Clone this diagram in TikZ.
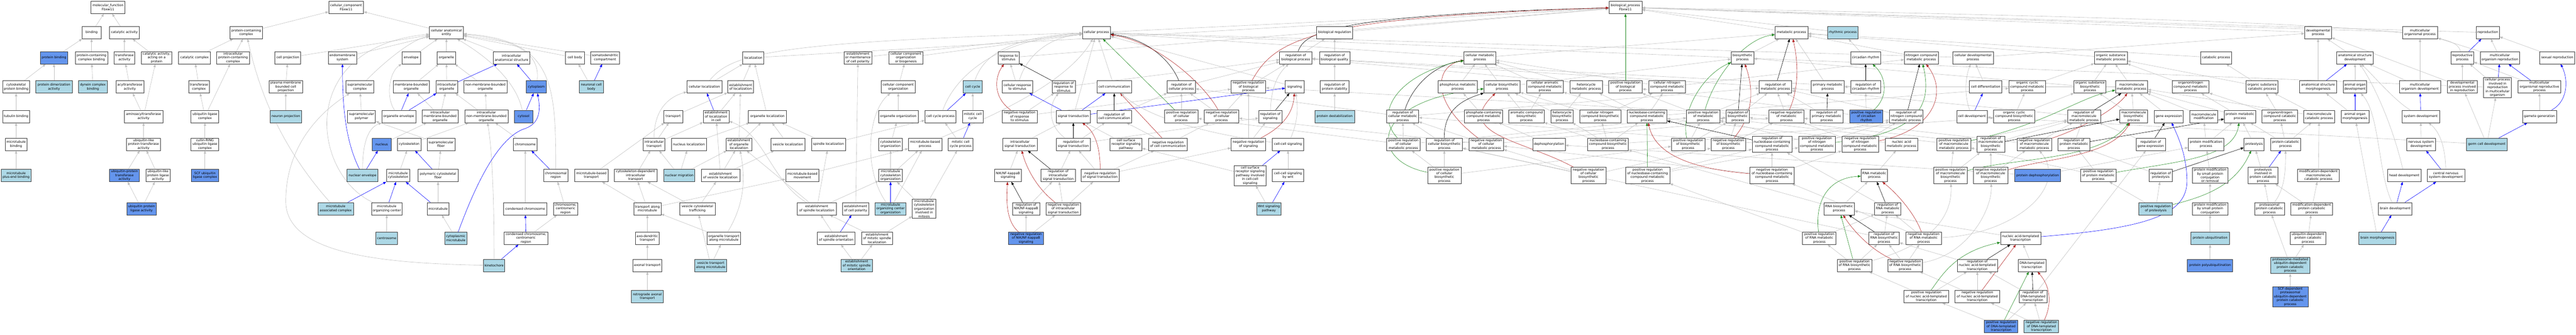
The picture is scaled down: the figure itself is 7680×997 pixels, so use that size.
\documentclass[tikz,border=0pt]{standalone}
\usepackage{fontspec}
\setmainfont{DejaVu Sans}
\usetikzlibrary{arrows.meta}
\pgfdeclarelayer{bg}
\pgfsetlayers{bg,main}
\definecolor{lbc}{HTML}{ADD8E6}
\definecolor{cbc}{HTML}{6495ED}
\definecolor{grc}{HTML}{C0C0C0}
\definecolor{rdc}{HTML}{B22222}
\definecolor{gnc}{HTML}{228B22}
\definecolor{blc}{HTML}{0000FF}
\tikzset{
  gb/.style={rectangle, draw=black!78, line width=1.1pt, fill=white, minimum height=37pt, inner xsep=1.5pt, inner ysep=2.5pt, align=center, font=\fontsize{9.6}{11.4}\selectfont},
  lbf/.style={fill=lbc},
  cbf/.style={fill=cbc},
  lnG/.style={draw=grc, line width=0.9pt, -{Triangle[length=9pt,width=7pt]}},
  lnB/.style={lnG, draw=blc},
  lnR/.style={lnG, draw=rdc},
  lnV/.style={lnG, draw=gnc},
  lnK/.style={lnG, draw=black},
}
\newcommand{\GN}[6]{\node[gb,minimum width=#4pt,#5] (#1) at (#2,#3) {#6};}
\begin{document}
\begin{tikzpicture}[x=1pt,y=-1pt]
\useasboundingbox (0,0) rectangle (7680,997);
% ---------- molecular function ----------
\GN{mf}{322}{22}{102}{}{molecular\_function\\Fbxw11}
\GN{bind}{273}{97}{56}{}{binding}
\GN{cat}{371}{97}{89}{}{catalytic activity}
\GN{pb}{161}{172}{81}{cbf}{protein binding}
\GN{pcb}{273}{172}{97}{}{protein-containing\\complex binding}
\GN{tra}{371}{172}{62}{}{transferase\\activity}
\GN{cap}{467}{172}{91}{}{catalytic activity,\\acting on a\\protein}
\GN{cytpb}{48}{259}{81}{}{cytoskeletal\\protein binding}
\GN{pda}{161}{259}{108}{lbf}{protein dimerization\\activity}
\GN{dcb}{277}{259}{85}{lbf}{dynein complex\\binding}
\GN{acyl}{387}{259}{83}{}{acyltransferase\\activity}
\GN{tub}{48}{347}{79}{}{tubulin binding}
\GN{amino}{428}{347}{115}{}{aminoacyltransferase\\activity}
\GN{mtb}{48}{430}{64}{}{microtubule\\binding}
\GN{ultra}{428}{430}{101}{}{ubiquitin-like\\protein transferase\\activity}
\GN{mtpe}{48}{523}{90}{lbf}{microtubule\\plus-end binding}
\GN{upta}{371}{523}{89}{cbf}{ubiquitin-protein\\transferase\\activity}
\GN{ulla}{471}{523}{73}{}{ubiquitin-like\\protein ligase\\activity}
\GN{upla}{422}{622}{87}{cbf}{ubiquitin protein\\ligase activity}
% ---------- cellular component ----------
\GN{cc}{1032}{22}{104}{}{cellular\_component\\Fbxw11}
\GN{pcc}{734}{97}{98}{}{protein-containing\\complex}
\GN{cae}{1331}{97}{101}{}{cellular anatomical\\entity}
\GN{catc}{580}{172}{95}{}{catalytic complex}
\GN{ipcc}{695}{172}{98}{}{intracellular\\protein-containing\\complex}
\GN{cproj}{858}{172}{77}{}{cell projection}
\GN{ems}{1021}{172}{85}{}{endomembrane\\system}
\GN{env}{1226}{172}{56}{}{envelope}
\GN{org}{1331}{172}{56}{}{organelle}
\GN{ias}{1525}{172}{110}{}{intracellular\\anatomical structure}
\GN{cbody}{1714}{172}{56}{}{cell body}
\GN{sdc}{1804}{172}{87}{}{somatodendritic\\compartment}
\GN{trc}{593}{259}{62}{}{transferase\\complex}
\GN{pmbcp}{852}{259}{100}{}{plasma membrane\\bounded cell\\projection}
\GN{smc}{1073}{259}{83}{}{supramolecular\\complex}
\GN{mbo}{1226}{259}{108}{}{membrane-bounded\\organelle}
\GN{io}{1332}{259}{64}{}{intracellular\\organelle}
\GN{nmbo}{1447}{259}{129}{}{non-membrane-bounded\\organelle}
\GN{cyto}{1599}{259}{59}{cbf}{cytoplasm}
\GN{ncb}{1763}{259}{71}{lbf}{neuronal cell\\body}
\GN{ulc}{611}{347}{83}{}{ubiquitin ligase\\complex}
\GN{np}{852}{347}{93}{lbf}{neuron projection}
\GN{smp}{1078}{347}{83}{}{supramolecular\\polymer}
\GN{oe}{1189}{347}{102}{}{organelle envelope}
\GN{imbo}{1312}{347}{108}{}{intracellular\\membrane-bounded\\organelle}
\GN{inmbo}{1450}{347}{129}{}{intracellular\\non-membrane-bounded\\organelle}
\GN{cytosol}{1561}{347}{56}{cbf}{cytosol}
\GN{crl}{611}{430}{83}{}{cullin-RING\\ubiquitin ligase\\complex}
\GN{nuc}{1138}{430}{56}{cbf}{nucleus}
\GN{cysk}{1220}{430}{71}{}{cytoskeleton}
\GN{smf}{1315}{430}{83}{}{supramolecular\\fiber}
\GN{chr}{1566}{430}{70}{}{chromosome}
\GN{scf}{611}{523}{82}{cbf}{SCF ubiquitin\\ligase complex}
\GN{ne}{1081}{523}{92}{lbf}{nuclear envelope}
\GN{mtcs}{1187}{523}{70}{}{microtubule\\cytoskeleton}
\GN{pcf}{1306}{523}{120}{}{polymeric cytoskeletal\\fiber}
\GN{chrr}{1657}{523}{73}{}{chromosomal\\region}
\GN{mac}{1001}{622}{105}{lbf}{microtubule\\associated complex}
\GN{mtoc}{1153}{622}{91}{}{microtubule\\organizing center}
\GN{mt}{1306}{622}{65}{}{microtubule}
\GN{cchr}{1566}{622}{129}{}{condensed chromosome}
\GN{ccr}{1686}{622}{73}{}{chromosome,\\centromeric\\region}
\GN{csome}{1153}{710}{64}{lbf}{centrosome}
\GN{cmt}{1359}{710}{67}{lbf}{cytoplasmic\\microtubule}
\GN{cccr}{1568}{710}{131}{}{condensed chromosome,\\centromeric\\region}
\GN{kin}{1473}{791}{64}{lbf}{kinetochore}
% ---------- biological process: transport / localization ----------
\GN{mbt}{1763}{523}{100}{}{microtubule-based\\transport}
\GN{cdit}{1895}{523}{127}{}{cytoskeleton-dependent\\intracellular\\transport}
\GN{tam}{1930}{622}{81}{}{transport along\\microtubule}
\GN{adt}{1930}{710}{71}{}{axo-dendritic\\transport}
\GN{axt}{1930}{791}{87}{}{axonal transport}
\GN{rat}{1930}{884}{95}{lbf}{retrograde axonal\\transport}
\GN{loc}{2246}{172}{63}{}{localization}
\GN{emcp}{2558}{172}{83}{}{establishment\\or maintenance\\of cell polarity}
\GN{cloc}{2100}{259}{104}{}{cellular localization}
\GN{eloc}{2208}{259}{77}{}{establishment\\of localization}
\GN{trans}{2007}{347}{56}{}{transport}
\GN{elic}{2135}{347}{77}{}{establishment\\of localization\\in cell}
\GN{oloc}{2288}{347}{114}{}{organelle localization}
\GN{itr}{1950}{430}{65}{}{intracellular\\transport}
\GN{nloc}{2054}{430}{104}{}{nucleus localization}
\GN{eol}{2203}{430}{77}{}{establishment\\of organelle\\localization}
\GN{vloc}{2349}{430}{101}{}{vesicle localization}
\GN{sloc}{2470}{430}{102}{}{spindle localization}
\GN{nmig}{2025}{523}{93}{lbf}{nuclear migration}
\GN{evl}{2148}{523}{115}{}{establishment\\of vesicle localization}
\GN{mtbm}{2392}{523}{99}{}{microtubule-based\\movement}
\GN{vct}{2079}{622}{106}{}{vesicle cytoskeletal\\trafficking}
\GN{esl}{2435}{622}{116}{}{establishment\\of spindle localization}
\GN{ecp}{2551}{622}{77}{}{establishment\\of cell polarity}
\GN{otam}{2158}{710}{101}{}{organelle transport\\along microtubule}
\GN{eso}{2493}{710}{112}{}{establishment\\of spindle orientation}
\GN{vtam}{2119}{791}{96}{lbf}{vesicle transport\\along microtubule}
\GN{emso}{2554}{791}{93}{lbf}{establishment\\of mitotic spindle\\orientation}
% ---------- organization / cell cycle / signaling ----------
\GN{ccob}{2701}{172}{102}{}{cellular component\\organization\\or biogenesis}
\GN{rts}{3007}{172}{64}{}{response to\\stimulus}
\GN{cco}{2678}{259}{101}{}{cellular component\\organization}
\GN{ccyc}{2900}{259}{56}{lbf}{cell cycle}
\GN{crs}{3033}{259}{91}{}{cellular response\\to stimulus}
\GN{rrs}{3171}{259}{69}{}{regulation of\\response to\\stimulus}
\GN{oorg}{2678}{347}{118}{}{organelle organization}
\GN{ccp}{2804}{347}{93}{}{cell cycle process}
\GN{mcc}{2900}{347}{61}{}{mitotic cell\\cycle}
\GN{nrrs}{3040}{347}{104}{}{negative regulation\\of response\\to stimulus}
\GN{st}{3200}{347}{101}{}{signal transduction}
\GN{csorg}{2655}{430}{70}{}{cytoskeleton\\organization}
\GN{mtbp}{2758}{430}{100}{}{microtubule-based\\process}
\GN{mccp}{2864}{430}{73}{}{mitotic cell\\cycle process}
\GN{ist}{3041}{430}{102}{}{intracellular\\signal transduction}
\GN{rst}{3200}{430}{101}{}{regulation of\\signal transduction}
\GN{mtco}{2655}{523}{70}{}{microtubule\\cytoskeleton\\organization}
\GN{nfkb}{3005}{523}{81}{}{NIK/NF-kappaB\\signaling}
\GN{rist}{3155}{523}{103}{}{regulation of\\intracellular\\signal transduction}
\GN{mtoco}{2655}{622}{92}{lbf}{microtubule\\organizing center\\organization}
\GN{mcoim}{2755}{622}{71}{}{microtubule\\cytoskeleton\\organization\\involved in\\mitosis}
\GN{rnfkb}{3059}{622}{81}{}{regulation of\\NIK/NF-kappaB\\signaling}
\GN{nrist}{3170}{622}{103}{}{negative regulation\\of intracellular\\signal transduction}
\GN{emsl}{2615}{710}{93}{}{establishment\\of mitotic spindle\\localization}
\GN{nrnfkb}{3059}{710}{104}{cbf}{negative regulation\\of NIK/NF-kappaB\\signaling}
\GN{cp}{3269}{97}{83}{}{cellular process}
\GN{rbp}{3863}{172}{96}{}{regulation of\\biological process}
\GN{ccom}{3322}{259}{104}{}{cell communication}
\GN{rcp}{3522}{259}{84}{}{regulation of\\cellular process}
\GN{nrbp}{3722}{259}{103}{}{negative regulation\\of biological\\process}
\GN{sig}{3860}{259}{56}{}{signaling}
\GN{rcc}{3322}{347}{104}{}{regulation of\\cell communication}
\GN{prcp}{3522}{347}{100}{}{positive regulation\\of cellular\\process}
\GN{nrcp}{3642}{347}{103}{}{negative regulation\\of cellular\\process}
\GN{rsig}{3787}{347}{69}{}{regulation of\\signaling}
\GN{csrsp}{3357}{430}{95}{}{cell surface\\receptor signaling\\pathway}
\GN{nrcc}{3482}{430}{116}{}{negative regulation\\of cell communication}
\GN{nrsig}{3722}{430}{103}{}{negative regulation\\of signaling}
\GN{ccs}{3840}{430}{93}{}{cell-cell signaling}
\GN{nrst}{3280}{523}{114}{}{negative regulation\\of signal transduction}
\GN{csrpc}{3727}{523}{95}{}{cell surface\\receptor signaling\\pathway involved\\in cell-cell\\signaling}
\GN{ccsw}{3840}{523}{93}{}{cell-cell signaling\\by wnt}
\GN{wnt}{3783}{622}{72}{lbf}{Wnt signaling\\pathway}
% ---------- regulation / metabolism ----------
\GN{breg}{3979}{97}{108}{}{biological regulation}
\GN{rbq}{3979}{172}{91}{}{regulation of\\biological quality}
\GN{cmp}{4412}{172}{95}{}{cellular metabolic\\process}
\GN{rps}{3979}{259}{85}{}{regulation of\\protein stability}
\GN{pmp}{4346}{259}{116}{}{phosphorus metabolic\\process}
\GN{cbp}{4478}{259}{108}{}{cellular biosynthetic\\process}
\GN{pdes}{3979}{347}{118}{lbf}{protein destabilization}
\GN{rcmp}{4182}{347}{95}{}{regulation of\\cellular metabolic\\process}
\GN{pccmp}{4423}{347}{113}{}{phosphate-containing\\compound metabolic\\process}
\GN{prcmp}{4184}{430}{100}{}{positive regulation\\of cellular\\metabolic process}
\GN{rcbp}{4306}{430}{108}{}{regulation of\\cellular biosynthetic\\process}
\GN{nrcmp}{4431}{430}{103}{}{negative regulation\\of cellular\\metabolic process}
\GN{prcbp}{4306}{523}{100}{}{positive regulation\\of cellular\\biosynthetic\\process}
\GN{bp}{4846}{22}{98}{}{biological\_process\\Fbxw11}
\GN{cacmp}{4606}{259}{110}{}{cellular aromatic\\compound metabolic\\process}
\GN{hmp}{4729}{259}{98}{}{heterocycle\\metabolic process}
\GN{prbp}{4846}{259}{100}{}{positive regulation\\of biological\\process}
\GN{cncmp}{4970}{259}{110}{}{cellular nitrogen\\compound metabolic\\process}
\GN{acbp}{4551}{347}{105}{}{aromatic compound\\biosynthetic\\process}
\GN{hbp}{4657}{347}{67}{}{heterocycle\\biosynthetic\\process}
\GN{cncbp}{4771}{347}{122}{}{cellular nitrogen\\compound biosynthetic\\process}
\GN{nccmp}{4910}{347}{119}{}{nucleobase-containing\\compound metabolic\\process}
\GN{prmp}{5078}{347}{99}{}{positive regulation\\of metabolic\\process}
\GN{dephos}{4618}{430}{97}{}{dephosphorylation}
\GN{nccbp}{4794}{430}{122}{}{nucleobase-containing\\compound biosynthetic\\process}
\GN{prbsp}{5033}{430}{100}{}{positive regulation\\of biosynthetic\\process}
\GN{nrbsp}{5153}{430}{104}{}{negative regulation\\of biosynthetic\\process}
\GN{nrcbp}{4736}{523}{103}{}{negative regulation\\of cellular\\biosynthetic\\process}
\GN{prnccmp}{4912}{523}{132}{}{positive regulation\\of nucleobase-containing\\compound metabolic\\process}
\GN{mp}{5341}{97}{98}{}{metabolic process}
\GN{rhp}{5494}{97}{92}{lbf}{rhythmic process}
\GN{bsp}{5195}{172}{67}{}{biosynthetic\\process}
\GN{crh}{5562}{172}{89}{}{circadian rhythm}
\GN{ncmp}{5728}{172}{101}{}{nitrogen compound\\metabolic process}
\GN{rmp}{5293}{259}{97}{}{regulation of\\metabolic process}
\GN{primp}{5449}{259}{98}{}{primary metabolic\\process}
\GN{rcrh}{5562}{259}{89}{}{regulation of\\circadian rhythm}
\GN{rbsp}{5181}{347}{69}{}{regulation of\\biosynthetic\\process}
\GN{nrmp}{5326}{347}{104}{}{negative regulation\\of metabolic\\process}
\GN{rprimp}{5446}{347}{98}{}{regulation of\\primary metabolic\\process}
\GN{prcrh}{5564}{347}{99}{cbf}{positive regulation\\of circadian\\rhythm}
\GN{rncmp}{5683}{347}{101}{}{regulation of\\nitrogen compound\\metabolic process}
\GN{rnccmp}{5283}{430}{118}{}{regulation of\\nucleobase-containing\\compound metabolic\\process}
\GN{prncmp}{5417}{430}{110}{}{positive regulation\\of nitrogen\\compound metabolic\\process}
\GN{nrncmp}{5546}{430}{110}{}{negative regulation\\of nitrogen\\compound metabolic\\process}
\GN{namp}{5669}{430}{98}{}{nucleic acid\\metabolic process}
\GN{nrnccmp}{5283}{523}{132}{}{negative regulation\\of nucleobase-containing\\compound metabolic\\process}
\GN{rnamp}{5588}{523}{79}{}{RNA metabolic\\process}
\GN{rnabp}{5483}{622}{91}{}{RNA biosynthetic\\process}
\GN{rrnamp}{5628}{622}{79}{}{regulation of\\RNA metabolic\\process}
\GN{prrnamp}{5424}{710}{100}{}{positive regulation\\of RNA metabolic\\process}
\GN{rrnabp}{5617}{710}{91}{}{regulation of\\RNA biosynthetic\\process}
\GN{nrrnamp}{5735}{710}{105}{}{negative regulation\\of RNA metabolic\\process}
\GN{prrnabp}{5529}{791}{103}{}{positive regulation\\of RNA biosynthetic\\process}
\GN{nrrnabp}{5680}{791}{103}{}{negative regulation\\of RNA biosynthetic\\process}
\GN{prnatt}{5743}{884}{133}{}{positive regulation\\of nucleic acid-templated\\transcription}
\GN{cdp}{5882}{172}{121}{}{cellular developmental\\process}
\GN{osmp}{6293}{172}{98}{}{organic substance\\metabolic process}
\GN{cdiff}{5920}{259}{97}{}{cell differentiation}
\GN{occmp}{6044}{259}{110}{}{organic cyclic\\compound metabolic\\process}
\GN{osbp}{6231}{259}{95}{}{organic substance\\biosynthetic\\process}
\GN{mmp}{6355}{259}{96}{}{macromolecule\\metabolic process}
\GN{cdev}{5879}{347}{91}{}{cell development}
\GN{occbp}{6005}{347}{122}{}{organic cyclic\\compound biosynthetic\\process}
\GN{rmmp}{6213}{347}{98}{}{regulation of\\macromolecule\\metabolic process}
\GN{mbp}{6361}{347}{83}{}{macromolecule\\biosynthetic\\process}
\GN{prmmp}{5825}{430}{100}{}{positive regulation\\of macromolecule\\metabolic process}
\GN{rmbp}{5935}{430}{83}{}{regulation of\\macromolecule\\biosynthetic\\process}
\GN{nrmmp}{6065}{430}{103}{}{negative regulation\\of macromolecule\\metabolic process}
\GN{rpmp}{6183}{430}{94}{}{regulation of\\protein metabolic\\process}
\GN{rge}{6412}{430}{88}{}{regulation of\\gene expression}
\GN{prmbp}{5815}{523}{100}{}{positive regulation\\of macromolecule\\biosynthetic\\process}
\GN{nrmbp}{5935}{523}{104}{}{negative regulation\\of macromolecule\\biosynthetic\\process}
\GN{pdp}{6075}{523}{137}{cbf}{protein dephosphorylation}
\GN{prpmp}{6256}{523}{107}{}{positive regulation\\of protein metabolic\\process}
\GN{pprot}{6427}{622}{100}{lbf}{positive regulation\\of proteolysis}
\GN{natt}{6024}{710}{120}{}{nucleic acid-templated\\transcription}
\GN{rnatt}{5895}{791}{120}{}{regulation of\\nucleic acid-templated\\transcription}
\GN{dtt}{6058}{791}{83}{}{DNA-templated\\transcription}
\GN{nrnatt}{5895}{884}{133}{}{negative regulation\\of nucleic acid-templated\\transcription}
\GN{rdtt}{6061}{884}{83}{}{regulation of\\DNA-templated\\transcription}
\GN{prdtt}{5966}{973}{100}{cbf}{positive regulation\\of DNA-templated\\transcription}
\GN{nrdtt}{6086}{973}{103}{lbf}{negative regulation\\of DNA-templated\\transcription}
% ---------- catabolism / development / reproduction ----------
\GN{dp}{6911}{97}{80}{}{developmental\\process}
\GN{catp}{6607}{172}{92}{}{catabolic process}
\GN{asd}{7021}{172}{110}{}{anatomical structure\\development}
\GN{oncmp}{6531}{259}{110}{}{organonitrogen\\compound metabolic\\process}
\GN{oscp}{6744}{259}{95}{}{organic substance\\catabolic process}
\GN{asm}{6911}{259}{110}{}{anatomical structure\\morphogenesis}
\GN{aod}{7021}{259}{70}{}{animal organ\\development}
\GN{gexp}{6466}{347}{86}{}{gene expression}
\GN{mmod}{6570}{347}{82}{}{macromolecule\\modification}
\GN{protmp}{6678}{347}{93}{}{protein metabolic\\process}
\GN{onccp}{6797}{347}{106}{}{organonitrogen\\compound catabolic\\process}
\GN{mcp}{6914}{347}{91}{}{macromolecule\\catabolic process}
\GN{aom}{7021}{347}{83}{}{animal organ\\morphogenesis}
\GN{pmodp}{6577}{430}{106}{}{protein modification\\process}
\GN{protl}{6720}{430}{60}{}{proteolysis}
\GN{pcatp}{6814}{430}{89}{}{protein catabolic\\process}
\GN{rprot}{6442}{523}{69}{}{regulation of\\proteolysis}
\GN{pmscr}{6589}{523}{106}{}{protein modification\\by small protein\\conjugation\\or removal}
\GN{picp}{6747}{523}{89}{}{proteolysis\\involved in\\protein catabolic\\process}
\GN{mdmcp}{6912}{523}{125}{}{modification-dependent\\macromolecule\\catabolic process}
\GN{pmsc}{6589}{622}{106}{}{protein modification\\by small protein\\conjugation}
\GN{ppcp}{6766}{622}{89}{}{proteasomal\\protein catabolic\\process}
\GN{mdpcp}{6892}{622}{125}{}{modification-dependent\\protein catabolic\\process}
\GN{pubi}{6589}{710}{114}{lbf}{protein ubiquitination}
\GN{udpcp}{6881}{710}{106}{}{ubiquitin-dependent\\protein catabolic\\process}
\GN{bmorph}{7088}{710}{110}{lbf}{brain morphogenesis}
\GN{ppubi}{6589}{791}{135}{cbf}{protein polyubiquitination}
\GN{pmud}{6828}{791}{116}{lbf}{proteasome-mediated\\ubiquitin-dependent\\protein catabolic\\process}
\GN{scfd}{6828}{884}{106}{cbf}{SCF-dependent\\proteasomal\\ubiquitin-dependent\\protein catabolic\\process}
\GN{mop}{7215}{97}{104}{}{multicellular\\organismal process}
\GN{repro}{7417}{97}{69}{}{reproduction}
\GN{rp}{7341}{172}{68}{}{reproductive\\process}
\GN{mor}{7453}{172}{118}{}{multicellular\\organism reproduction}
\GN{sr}{7624}{172}{104}{}{sexual reproduction}
\GN{mod}{7215}{259}{122}{}{multicellular\\organism development}
\GN{dpir}{7341}{259}{90}{}{developmental\\process involved\\in reproduction}
\GN{cpir}{7446}{261}{83}{}{cellular process\\involved in\\reproduction\\in multicellular\\organism}
\GN{morp}{7571}{259}{128}{}{multicellular\\organismal reproductive\\process}
\GN{sd}{7217}{347}{112}{}{system development}
\GN{gg}{7571}{347}{101}{}{gamete generation}
\GN{nsd}{7218}{430}{85}{}{nervous system\\development}
\GN{gcd}{7414}{430}{122}{lbf}{germ cell development}
\GN{hd}{7168}{523}{99}{}{head development}
\GN{cnsd}{7292}{523}{112}{}{central nervous\\system development}
\GN{bd}{7141}{622}{100}{}{brain development}
% ================= edges =================
\begin{pgfonlayer}{bg}
\fill[white] (0,0) rectangle (7680,997);
\foreach \a/\b in {bind/mf, cat/mf, pb/bind, pcb/bind, tra/cat, cap/cat, cytpb/pb, pda/pb, dcb/pcb, acyl/tra, amino/acyl, amino/cap, ultra/amino, upta/ultra, ulla/ultra, upla/upta, upla/ulla, tub/cytpb, mtb/tub, mtpe/mtb,
 pcc/cc, cae/cc, catc/pcc, ipcc/pcc, ulc/ipcc, trc/catc, ulc/trc, crl/ulc, scf/crl,
 cproj/cae, ems/cae, env/cae, org/cae, ias/cae, cbody/cae, sdc/cae, mbo/org, io/org, nmbo/org, pmbcp/cproj, np/pmbcp, smp/smc, imbo/mbo, imbo/io, inmbo/io, inmbo/nmbo, nuc/imbo, cysk/inmbo, smf/smp, mtcs/cysk, pcf/smf, mt/pcf, csome/mtoc, cmt/mt, chr/inmbo, cchr/chr, ccr/chrr, cccr/ccr, ncb/cbody,
 mbt/trans, cdit/itr, tam/mbt, tam/cdit, tam/mtbm, adt/tam, axt/adt, rat/axt, itr/trans, itr/elic, trans/eloc, elic/eloc, cloc/loc, eloc/loc, oloc/loc, loc/bp, nloc/oloc, eol/oloc, eol/eloc, vloc/oloc, sloc/oloc, nmig/itr, nmig/nloc, nmig/eol, evl/eol, evl/elic, evl/vloc, vct/evl, vct/cdit, esl/eol, esl/sloc, esl/mtco, otam/tam, vtam/vct, vtam/otam, eso/esl, emso/eso, ecp/emcp, emsl/esl, emso/emsl, mtbm/mtbp, sloc/ccp,
 ccob/cp, emcp/cp, cco/ccob, oorg/cco, csorg/oorg, mtco/csorg, mtco/mtbp, mtoco/mtbp, mcoim/mtco, mcoim/mccp, emsl/mcoim, mcc/ccyc, mccp/ccp, rts/bp, crs/rts, nrrs/rrs, nrrs/nrbp, ist/st, nfkb/ist, rnfkb/rist, nrnfkb/rnfkb, nrnfkb/nrist, rist/rst, nrist/rist, nrist/nrst, rrs/rbp, st/cp,
 ccom/cp, rcc/rcp, rst/rcc, rst/rsig, nrst/rst, nrst/nrcc, nrst/nrsig, csrsp/st, nrcc/rcc, nrcc/nrcp, prcp/rcp, rcp/rbp, nrcp/rcp, nrcp/nrbp, nrbp/rbp, nrsig/nrbp, nrsig/rsig, csrpc/csrsp, wnt/csrpc, ccsw/ccs, cp/bp, sig/cp,
 rbp/breg, rbq/breg, breg/bp, rps/rbq, pdes/rps, rcmp/rcp, rcmp/rmp, prcmp/rcmp, prcmp/prcp, prcmp/prmp, rcbp/rcmp, rcbp/rbsp, nrcmp/rcmp, nrcmp/nrcp, nrcmp/nrmp, prcbp/rcbp, prcbp/prcmp, prcbp/prbsp, pmp/cmp, pccmp/pmp, cbp/cmp, cbp/bsp, cmp/cp, cmp/mp,
 prbp/rbp, cacmp/cmp, hmp/cmp, cncmp/cmp, cncmp/ncmp, acbp/cacmp, acbp/cbp, hbp/hmp, hbp/cbp, cncbp/cncmp, cncbp/cbp, nccmp/cncmp, nccmp/hmp, nccmp/cacmp, nccmp/occmp, nccbp/nccmp, nccbp/cncbp, nccbp/hbp, nccbp/acbp, nccbp/occbp, dephos/pccmp, prnccmp/rnccmp, prnccmp/prncmp, nrcbp/rcbp, nrcbp/nrcmp, nrcbp/nrbsp, prbsp/prmp, prbsp/rbsp, prmp/prbp, prmp/rmp, nrbsp/rbsp, nrbsp/nrmp,
 mp/bp, rhp/bp, bsp/mp, primp/mp, crh/rhp, ncmp/mp, rmp/rbp, nrmp/rmp, nrmp/nrbp, rprimp/rmp, rbsp/rmp, prcrh/rcrh, prcrh/prbp, rcrh/rbp, rncmp/rmp, rnccmp/rncmp, rnccmp/rcmp, prncmp/rncmp, prncmp/prmp, nrncmp/rncmp, nrncmp/nrmp, nrnccmp/rnccmp, nrnccmp/nrncmp, nrnccmp/nrcmp, namp/nccmp, rnamp/namp, rnabp/rnamp, rnabp/nccbp, rrnamp/rnccmp, prrnamp/rrnamp, prrnamp/prnccmp, rrnabp/rrnamp, rrnabp/rcbp, nrrnamp/rrnamp, nrrnamp/nrnccmp, prrnabp/rrnabp, prrnabp/prrnamp, nrrnabp/rrnabp, nrrnabp/nrrnamp, prnatt/prrnabp,
 cdp/dp, cdp/cp, cdiff/cdp, occmp/osmp, occbp/occmp, occbp/osbp, osbp/osmp, osbp/bsp, osmp/mp, mmp/osmp, mmp/primp, mbp/mmp, mbp/osbp, rmmp/rmp, rmbp/rmmp, rmbp/rbsp, prmmp/rmmp, prmmp/prmp, nrmmp/rmmp, nrmmp/nrmp, rpmp/rmmp, prmbp/rmbp, prmbp/prmmp, nrmbp/rmbp, nrmbp/nrmmp, prpmp/rpmp, prpmp/prmmp, pprot/prpmp, pprot/rprot, rge/rmmp, natt/rnabp, dtt/natt, rnatt/rrnabp, nrnatt/rnatt, nrnatt/nrrnabp, rdtt/rnatt, rdtt/rge, prdtt/rdtt, prdtt/prnatt, nrdtt/rdtt, nrdtt/nrnatt, prnatt/rnatt, pdp/dephos, pdp/pmodp,
 dp/bp, catp/mp, asd/dp, asm/dp, aom/asm, aod/asd, oncmp/osmp, oscp/catp, oscp/osmp, gexp/mmp, mmod/mmp, protmp/oncmp, protmp/mmp, onccp/oncmp, onccp/oscp, mcp/oscp, mcp/mmp, pmodp/protmp, pmodp/mmod, protl/protmp, pcatp/protmp, pcatp/mcp, pcatp/onccp, rprot/rpmp, pmscr/pmodp, picp/protl, mdmcp/mcp, pmsc/pmscr, mdpcp/mdmcp, mdpcp/picp, pubi/pmsc, udpcp/mdpcp, ppubi/pubi, pmud/udpcp, pmud/ppcp, scfd/pmud, bmorph/aom, ppcp/picp,
 mop/bp, repro/bp, mor/repro, mor/mop, sr/repro, mod/mop, mod/asd, dpir/rp, dpir/dp, cpir/rp, cpir/cp, morp/rp, gg/morp, nsd/sd, gcd/dpir, gcd/cpir, gcd/cdev}
 {\draw[lnG] (\a) -- (\b);}
\foreach \a/\b in {rrs/rts, rnfkb/nfkb, rist/ist, rst/st, rcc/ccom, rsig/sig, rprimp/primp, rmp/mp, rcrh/crh, rbsp/bsp, rncmp/ncmp, rrnamp/rnamp, rrnabp/rnabp, rnccmp/nccmp, rmmp/mmp, rmbp/mbp, rpmp/protmp, rnatt/natt, rdtt/dtt, rge/gexp, rprot/protl}
 {\draw[lnK] (\a) -- (\b);}
\foreach \a/\b in {nrcc/ccom, nrnatt/natt}
 {\draw[lnR] (\a) -- (\b);}
\foreach \a/\b in {prcp/cp, prbp/bp, prnccmp/nccmp, prrnabp/rnabp, prdtt/dtt}
 {\draw[lnV] (\a) -- (\b);}
\foreach \a/\b in {ne/nuc, oe/mbo, oe/io, io/ias, cyto/ias, ncb/sdc, cytosol/cyto, chrr/chr, cccr/cchr, kin/cccr, mt/mtcs, pcf/cysk, mac/mtcs, mtoc/mtcs, elic/cloc, eso/ecp, ccp/ccyc, mccp/mcc, mtoco/mtco, st/crs, st/ccom, st/sig, csrpc/ccs, wnt/ccsw, cdev/cdiff, asm/asd, aom/aod, picp/pcatp, rp/repro, cpir/mor, morp/mor, sd/mod, gcd/gg, cnsd/nsd, bd/hd, bd/cnsd, bmorph/bd}
 {\draw[lnB] (\a) -- (\b);}
% curved gray
\draw[lnG] (mac) .. controls (830,430) and (770,260) .. (pcc);
\draw[lnG] (mtoc) .. controls (930,520) and (880,140) .. (cae);
\draw[lnG] (kin) .. controls (1150,785) and (852,760) .. (852,600) .. controls (852,430) and (960,330) .. (smc);
\draw[lnG] (ne) .. controls (1081,420) and (1100,380) .. (oe);
\draw[lnG] (oe) .. controls (1150,290) and (1160,215) .. (env);
\draw[lnG] (smc) .. controls (1130,200) and (1220,120) .. (cae);
\draw[lnG] (cyto) .. controls (1610,170) and (1560,120) .. (cae);
\draw[lnG] (cytosol) .. controls (1540,250) and (1470,180) .. (cae);
\draw[lnG] (chrr) .. controls (1657,250) and (1650,120) .. (cae);
\draw[lnG] (kin) .. controls (1473,560) and (1465,430) .. (inmbo);
\draw[lnG] (itr) .. controls (1950,330) and (1990,290) .. (cloc);
\draw[lnG] (cloc) .. controls (2180,160) and (2300,125) .. (cp);
\draw[lnG] (esl) .. controls (2300,540) and (2280,400) .. (elic);
\draw[lnG] (otam) .. controls (2225,600) and (2220,520) .. (eol);
\draw[lnG] (mtoco) .. controls (2570,500) and (2590,330) .. (cco);
\draw[lnG] (ccp) .. controls (2850,220) and (2980,115) .. (cp);
\draw[lnG] (ccyc) .. controls (2930,170) and (3000,110) .. (cp);
\draw[lnG] (crs) .. controls (3060,170) and (3120,112) .. (cp);
\draw[lnG] (mtbp) .. controls (2950,350) and (3180,250) .. (cp);
\draw[lnG] (rst) .. controls (3120,370) and (3130,310) .. (rrs);
\draw[lnG] (rsig) .. controls (3790,260) and (3810,220) .. (rbp);
\draw[lnG] (ccs) .. controls (3870,360) and (3870,320) .. (sig);
\draw[lnG] (ccs) .. controls (3600,400) and (3420,350) .. (ccom);
\draw[lnG] (cdev) .. controls (5855,280) and (5860,230) .. (cdp);
\draw[lnG] (nrrnamp) .. controls (6000,700) and (6170,560) .. (nrmmp);
\draw[lnG] (prrnabp) .. controls (5790,720) and (5820,620) .. (prmbp);
\draw[lnG] (nrrnabp) .. controls (5870,760) and (5940,620) .. (nrmbp);
\draw[lnG] (ppcp) .. controls (6814,560) and (6814,500) .. (pcatp);
\draw[lnG] (rp) .. controls (7320,100) and (7250,65) .. (bp);
\draw[lnG] (sd) .. controls (7140,300) and (7080,230) .. (asd);
\draw[lnG] (cnsd) .. controls (7290,430) and (7270,390) .. (sd);
\draw[lnG] (hd) .. controls (7130,360) and (7070,240) .. (asd);
\draw[lnG] (bd) .. controls (7090,520) and (7095,340) .. (aod);
% curved black
\draw[lnK] (rcp) .. controls (3490,180) and (3420,115) .. (cp);
\draw[lnK] (rbp) .. controls (3890,100) and (3950,45) .. (bp);
\draw[lnK] (rcmp) .. controls (4210,260) and (4270,195) .. (cmp);
\draw[lnK] (rcbp) .. controls (4305,320) and (4370,295) .. (cbp);
% curved red
\draw[lnR] (nrrs) .. controls (2960,290) and (2965,230) .. (rts);
\draw[lnR] (nrnfkb) .. controls (3000,660) and (3000,600) .. (nfkb);
\draw[lnR] (nrist) .. controls (3090,560) and (3060,500) .. (ist);
\draw[lnR] (nrst) .. controls (3280,430) and (3260,390) .. (st);
\draw[lnR] (nrcp) .. controls (3590,250) and (3450,125) .. (cp);
\draw[lnR] (nrbp) .. controls (3800,120) and (3900,50) .. (bp);
\draw[lnR] (nrsig) .. controls (3820,380) and (3855,340) .. (sig);
\draw[lnR] (nrcmp) .. controls (4260,300) and (4280,195) .. (cmp);
\draw[lnR] (nrcbp) .. controls (4550,420) and (4330,400) .. (cbp);
\draw[lnR] (nrnccmp) .. controls (5000,500) and (4930,440) .. (nccmp);
\draw[lnR] (nrbsp) .. controls (5240,330) and (5220,240) .. (bsp);
\draw[lnR] (nrmp) .. controls (5365,260) and (5360,180) .. (mp);
\draw[lnR] (nrncmp) .. controls (5760,390) and (5810,280) .. (ncmp);
\draw[lnR] (nrrnamp) .. controls (5710,640) and (5660,580) .. (rnamp);
\draw[lnR] (nrrnabp) .. controls (5570,740) and (5520,680) .. (rnabp);
\draw[lnR] (nrmmp) .. controls (6240,370) and (6320,310) .. (mmp);
\draw[lnR] (nrmbp) .. controls (6100,470) and (6290,470) .. (mbp);
\draw[lnR] (nrdtt) .. controls (6120,900) and (6110,850) .. (dtt);
% curved green
\draw[lnV] (prcmp) .. controls (4090,330) and (4180,215) .. (cmp);
\draw[lnV] (prcbp) .. controls (4080,480) and (4080,300) .. (cbp);
\draw[lnV] (prbsp) .. controls (5010,330) and (5080,220) .. (bsp);
\draw[lnV] (prmp) .. controls (5110,230) and (5200,115) .. (mp);
\draw[lnV] (prcrh) .. controls (5630,290) and (5625,230) .. (crh);
\draw[lnV] (prncmp) .. controls (5700,400) and (5765,330) .. (ncmp);
\draw[lnV] (prrnamp) .. controls (5410,600) and (5450,530) .. (rnamp);
\draw[lnV] (prmmp) .. controls (6100,370) and (6200,290) .. (mmp);
\draw[lnV] (prmbp) .. controls (6000,470) and (6260,480) .. (mbp);
\draw[lnV] (prpmp) .. controls (6500,480) and (6660,470) .. (protmp);
\draw[lnV] (prnatt) .. controls (5790,820) and (5830,750) .. (natt);
\draw[lnV] (pprot) .. controls (6600,580) and (6670,540) .. (protl);
% curved blue
\draw[lnB] (ne) .. controls (1030,420) and (1021,320) .. (ems);
\draw[lnB] (cmt) .. controls (1400,600) and (1470,420) .. (1560,385) .. controls (1610,370) and (1612,330) .. (cyto);
\draw[lnB] (gg) .. controls (7660,300) and (7655,230) .. (sr);
\draw[lnB] (natt) .. controls (6400,680) and (6520,640) .. (6520,540) .. controls (6520,460) and (6490,400) .. (gexp);
\end{pgfonlayer}
\end{tikzpicture}
\end{document}
